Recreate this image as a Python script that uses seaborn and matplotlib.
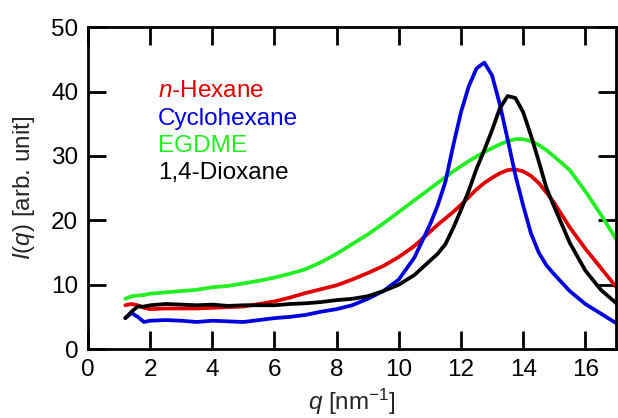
import numpy as np
import pandas as pd
import seaborn as sns
import matplotlib
matplotlib.use("Agg")
import matplotlib.pyplot as plt

# ---- data ----
q = [1.2, 1.4, 1.6, 1.8, 2.0, 2.5, 3.0, 3.5, 4.0, 4.5, 5.0, 5.5, 6.0, 6.5, 7.0,
     7.5, 8.0, 8.5, 9.0, 9.5, 10.0, 10.5, 11.0, 11.25, 11.5, 11.75, 12.0, 12.25,
     12.5, 12.75, 13.0, 13.25, 13.5, 13.75, 14.0, 14.25, 14.5, 14.75, 15.0, 15.5,
     16.0, 16.5, 17.0]

egdme = [7.8, 8.2, 8.3, 8.4, 8.6, 8.8, 9.0, 9.2, 9.6, 9.8, 10.2, 10.6, 11.1, 11.7,
         12.4, 13.5, 14.8, 16.3, 17.8, 19.5, 21.3, 23.1, 24.9, 25.8, 26.7, 27.6,
         28.4, 29.2, 29.9, 30.6, 31.2, 31.8, 32.3, 32.6, 32.6, 32.3, 31.7, 30.9,
         29.9, 27.8, 24.5, 20.9, 17.0]

hexane = [6.8, 7.0, 6.8, 6.4, 6.2, 6.3, 6.3, 6.3, 6.4, 6.5, 6.6, 7.0, 7.4, 8.0,
          8.7, 9.3, 9.9, 10.8, 11.8, 12.9, 14.3, 16.0, 18.2, 19.3, 20.3, 21.3,
          22.4, 23.6, 24.8, 25.8, 26.6, 27.3, 27.8, 27.9, 27.6, 26.9, 25.8, 24.3,
          22.7, 18.9, 15.6, 12.6, 9.6]

cyclohexane = [4.8, 5.6, 5.0, 4.2, 4.4, 4.5, 4.4, 4.2, 4.4, 4.3, 4.2, 4.5, 4.8,
               5.0, 5.3, 5.8, 6.2, 6.8, 7.8, 9.0, 10.8, 14.2, 19.3, 22.3, 26.0,
               31.6, 36.8, 40.8, 43.6, 44.5, 42.5, 38.0, 32.6, 27.0, 22.3, 18.0,
               15.0, 13.0, 11.6, 9.0, 7.0, 5.5, 4.0]

dioxane = [4.8, 5.8, 6.6, 6.6, 6.8, 7.0, 6.9, 6.8, 6.9, 6.7, 6.8, 6.8, 6.8, 7.0,
           7.1, 7.3, 7.6, 7.8, 8.2, 9.0, 10.0, 11.5, 13.7, 14.8, 16.3, 18.8,
           21.6, 24.6, 28.0, 30.9, 34.0, 37.4, 39.3, 39.0, 36.8, 33.2, 29.2,
           25.0, 22.1, 16.5, 12.2, 9.2, 7.1]

series_names = ["EGDME", "n-Hexane", "Cyclohexane", "1,4-Dioxane"]
series_vals = [egdme, hexane, cyclohexane, dioxane]
colors = {"n-Hexane": "#e00000", "Cyclohexane": "#0000dd",
          "EGDME": "#22ee22", "1,4-Dioxane": "#000000"}
legend_labels = ["$\\it{n}$-Hexane", "Cyclohexane", "EGDME", "1,4-Dioxane"]
legend_keys = ["n-Hexane", "Cyclohexane", "EGDME", "1,4-Dioxane"]

x_ticks = [0, 2, 4, 6, 8, 10, 12, 14, 16]
y_ticks = [0, 10, 20, 30, 40, 50]

df = pd.concat([pd.DataFrame({"q": q, "I": v, "solvent": n})
                for n, v in zip(series_names, series_vals)], ignore_index=True)

# ---- style ----
sns.set_style("ticks")
plt.rcParams["font.family"] = ["Liberation Sans", "DejaVu Sans"]
plt.rcParams["mathtext.fontset"] = "custom"
plt.rcParams["mathtext.rm"] = "Liberation Sans"
plt.rcParams["mathtext.it"] = "Liberation Sans:italic"
plt.rcParams["mathtext.default"] = "regular"

FS = 17.5

fig = plt.figure(figsize=(6.18, 4.18), dpi=100)
ax = fig.add_axes([0.1424, 0.165, 0.855, 0.77])

sns.lineplot(data=df, x="q", y="I", hue="solvent", palette=colors,
             estimator=None, sort=False, legend=False, linewidth=2.7, ax=ax)

ax.set_xlim(0, 17)
ax.set_ylim(0, 50)
ax.set_xticks(x_ticks)
ax.set_yticks(y_ticks)
ax.tick_params(direction="in", length=13, width=2, top=True, right=True,
               labelsize=FS, pad=7, colors="black")
for s in ax.spines.values():
    s.set_visible(True)
    s.set_linewidth(2)
    s.set_color("black")

ax.set_xlabel("$\\it{q}$ [nm$^{-1}$]", fontsize=FS, labelpad=4)
ax.set_ylabel("$\\it{I}$($\\it{q}$) [arb. unit]", fontsize=FS, labelpad=10)

ys = [40.1, 35.8, 31.6, 27.4]
for lab, key, yy in zip(legend_labels, legend_keys, ys):
    ax.text(2.25, yy, lab, color=colors[key], fontsize=FS, va="center", ha="left")

fig.savefig("out.png", dpi=100)
